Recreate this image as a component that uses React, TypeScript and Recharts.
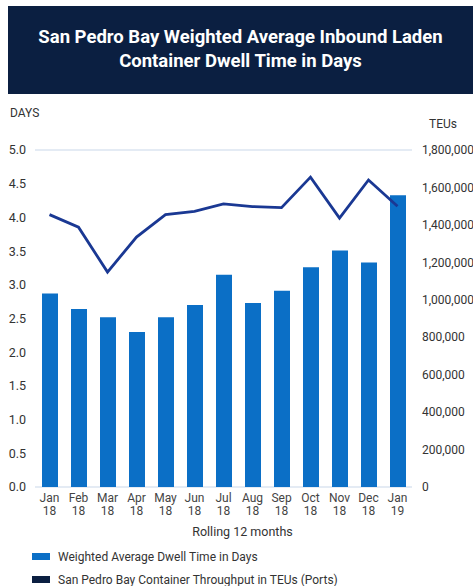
import * as React from 'react';
import { ComposedChart, Bar, Line, XAxis, YAxis, CartesianGrid } from 'recharts';

const months = ['Jan', 'Feb', 'Mar', 'Apr', 'May', 'Jun', 'Jul', 'Aug', 'Sep', 'Oct', 'Nov', 'Dec', 'Jan'];
const years = ['18', '18', '18', '18', '18', '18', '18', '18', '18', '18', '18', '18', '19'];
const dwellDays = [2.87, 2.64, 2.52, 2.30, 2.52, 2.70, 3.15, 2.73, 2.91, 3.26, 3.51, 3.33, 4.33];
const throughputTeus = [1455000, 1388000, 1148000, 1335000, 1455000, 1472000, 1512000, 1498000, 1492000, 1655000, 1436000, 1640000, 1500000];
const dayTicks = [0, 0.5, 1, 1.5, 2, 2.5, 3, 3.5, 4, 4.5, 5];
const teuTicks = [0, 200000, 400000, 600000, 800000, 1000000, 1200000, 1400000, 1600000, 1800000];

const BAR_NAME = 'Weighted Average Dwell Time in Days';
const LINE_NAME = 'San Pedro Bay Container Throughput in TEUs (Ports)';
const BAR_COLOR = '#0b6fc6';
const LINE_COLOR = '#1a3893';
const NAVY = '#0b1f41';
const FONT = 'Roboto, "Noto Sans", sans-serif';

const data = months.map((m, i) => ({
  label: `${m}|${years[i]}`,
  days: dwellDays[i],
  teus: throughputTeus[i],
}));

const MonthTick = (props: any) => {
  const { x, y, payload } = props;
  const [m, yr] = String(payload.value).split('|');
  return (
    <g transform={`translate(${x},${y})`}>
      <text textAnchor="middle" fill="#444" fontSize={12} fontFamily={FONT}>
        <tspan x={0} dy={7}>{m}</tspan>
        <tspan x={0} dy={13}>{yr}</tspan>
      </text>
    </g>
  );
};

const legendItems = [
  { name: BAR_NAME, color: BAR_COLOR },
  { name: LINE_NAME, color: NAVY },
];

export default function App() {
  return (
    <div style={{ position: 'absolute', left: 0, top: 0, width: 473, height: 586, background: '#fff', fontFamily: FONT }}>
      <div
        style={{
          position: 'absolute', left: 8, top: 6, width: 465, height: 88, background: NAVY,
          color: '#fff', fontWeight: 700, fontSize: 18.5, lineHeight: '24px', textAlign: 'center',
          display: 'flex', flexDirection: 'column', justifyContent: 'center', boxSizing: 'border-box', paddingBottom: 2,
        }}
      >
        <div>San Pedro Bay Weighted Average Inbound Laden</div>
        <div>Container Dwell Time in Days</div>
      </div>
      <div style={{ position: 'absolute', left: 10, top: 106, fontSize: 12, color: '#333' }}>DAYS</div>
      <div style={{ position: 'absolute', left: 429, top: 117, fontSize: 12, color: '#333' }}>TEUs</div>
      <div style={{ position: 'absolute', left: 0, top: 0 }}>
        <ComposedChart width={473} height={586} data={data} margin={{ top: 150, right: 0, bottom: 59, left: 5 }}>
          <CartesianGrid vertical={false} stroke="#dbe5f1" strokeWidth={1.5} />
          <XAxis
            dataKey="label"
            interval={0}
            axisLine={false}
            tickLine={false}
            tick={<MonthTick />}
            height={40}
          />
          <YAxis
            yAxisId="left"
            width={30}
            domain={[0, 5]}
            ticks={dayTicks}
            tickFormatter={(v) => Number(v).toFixed(1)}
            axisLine={false}
            tickLine={false}
            tickMargin={3}
            tick={{ fill: '#333', fontSize: 12.5, fontFamily: FONT }}
          />
          <YAxis
            yAxisId="right"
            orientation="right"
            width={61}
            domain={[0, 1800000]}
            ticks={teuTicks}
            tickFormatter={(v) => Number(v).toLocaleString('en-US')}
            axisLine={false}
            tickLine={false}
            tickMargin={4}
            tick={{ fill: '#333', fontSize: 12, fontFamily: FONT, textAnchor: 'start' }}
          />
          <Bar yAxisId="left" dataKey="days" name={BAR_NAME} fill={BAR_COLOR} barSize={16} isAnimationActive={false} />
          <Line
            yAxisId="right"
            dataKey="teus"
            name={LINE_NAME}
            type="linear"
            stroke={LINE_COLOR}
            strokeWidth={2.8}
            dot={false}
            activeDot={false}
            isAnimationActive={false}
          />
        </ComposedChart>
      </div>
      <div style={{ position: 'absolute', left: 0, width: 485, top: 524, textAlign: 'center', fontSize: 12.5, color: '#333' }}>
        Rolling 12 months
      </div>
      <div style={{ position: 'absolute', left: 32, top: 545, fontSize: 12, color: '#333' }}>
        {legendItems.map((item) => (
          <div key={item.name} style={{ display: 'flex', alignItems: 'center', height: 23 }}>
            <span style={{ display: 'inline-block', width: 18, height: 7, background: item.color, marginRight: 8 }} />
            <span>{item.name}</span>
          </div>
        ))}
      </div>
    </div>
  );
}
